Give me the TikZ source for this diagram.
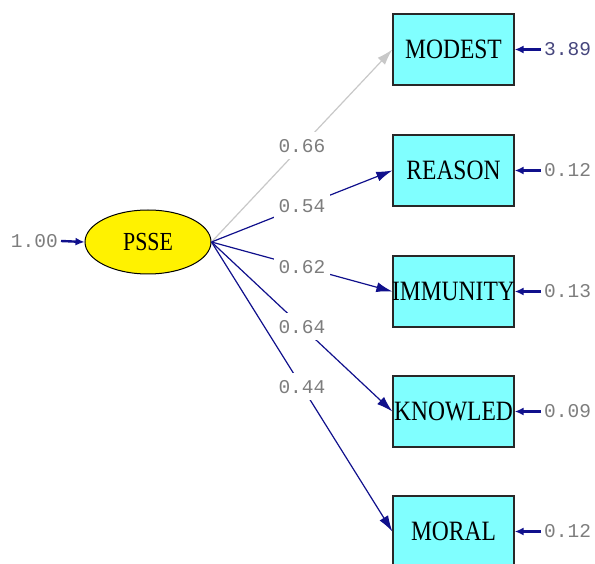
\documentclass[tikz,border=0pt]{standalone}
\usepackage{fontspec}
\newfontfamily\boxfont[FakeStretch=0.84]{Liberation Serif}
\newfontfamily\numfont{Liberation Mono}
\usetikzlibrary{arrows.meta,shapes.geometric}
\definecolor{boxcyan}{RGB}{128,255,255}
\definecolor{pathblue}{RGB}{16,16,140}
\definecolor{weakgray}{RGB}{200,200,200}
\definecolor{numgray}{RGB}{125,125,125}
\definecolor{numblue}{RGB}{70,70,125}
\definecolor{edgedark}{RGB}{40,40,40}
\newcommand{\boxtxt}[1]{\makebox[0pt][c]{#1}}
\tikzset{
  obsbox/.style={draw=edgedark, line width=1.3pt, fill=boxcyan, minimum width=121pt,
    minimum height=71pt, inner sep=0pt, font=\boxfont\fontsize{28}{30}\selectfont},
  latent/.style={ellipse, draw=black, line width=1pt, fill=yellow, minimum width=126pt,
    minimum height=64pt, inner sep=0pt, font=\boxfont\fontsize{26}{28}\selectfont},
  pathline/.style={draw=pathblue, line width=1.2pt, -{Latex[length=16pt,width=10pt]}},
  weakpath/.style={pathline, draw=weakgray},
  coef/.style={fill=white, inner xsep=4.5pt, inner ysep=7pt, text=numgray,
    font=\numfont\fontsize{19.5}{20}\selectfont},
  errlabel/.style={inner xsep=3pt, inner ysep=0pt, text=numgray,
    font=\numfont\fontsize{19.5}{20}\selectfont},
  errarrow/.style={draw=pathblue, line width=2.4pt, -{Latex[length=9pt,width=8pt]}}
}
\begin{document}
\begin{tikzpicture}[x=1pt,y=-1pt]
\useasboundingbox (0,0) rectangle (595,564);

\node[obsbox] (modest) at (453.5,49.5) {\boxtxt{MODEST}};
\node[obsbox] (reason) at (453.5,170.5) {\boxtxt{REASON}};
\node[obsbox] (immunity) at (453.5,291.5) {\boxtxt{IMMUNITY}};
\node[obsbox] (knowled) at (453.5,411.5) {\boxtxt{KNOWLED}};
\node[obsbox] (moral) at (453.5,531.5) {\boxtxt{MORAL}};

\node[latent] (psse) at (148,242) {PSSE};

\draw[weakpath] (psse.east) -- node[coef] {0.66} (modest.west);
\draw[pathline] (psse.east) -- node[coef] {0.54} (reason.west);
\draw[pathline] (psse.east) -- node[coef] {0.62} (immunity.west);
\draw[pathline] (psse.east) -- node[coef] {0.64} (knowled.west);
\draw[pathline] (psse.east) -- node[coef] {0.44} (moral.west);

\node[errlabel, anchor=east] (e0) at (61,241) {1.00};
\node[errlabel, anchor=west, text=numblue] (e1) at (541,49.5) {3.89};
\node[errlabel, anchor=west] (e2) at (541,170.5) {0.12};
\node[errlabel, anchor=west] (e3) at (541,291.5) {0.13};
\node[errlabel, anchor=west] (e4) at (541,411.5) {0.09};
\node[errlabel, anchor=west] (e5) at (541,531.5) {0.12};

\draw[errarrow] (e0.east) -- (psse.west);
\draw[errarrow] (e1.west) -- (modest.east);
\draw[errarrow] (e2.west) -- (reason.east);
\draw[errarrow] (e3.west) -- (immunity.east);
\draw[errarrow] (e4.west) -- (knowled.east);
\draw[errarrow] (e5.west) -- (moral.east);
\end{tikzpicture}
\end{document}
